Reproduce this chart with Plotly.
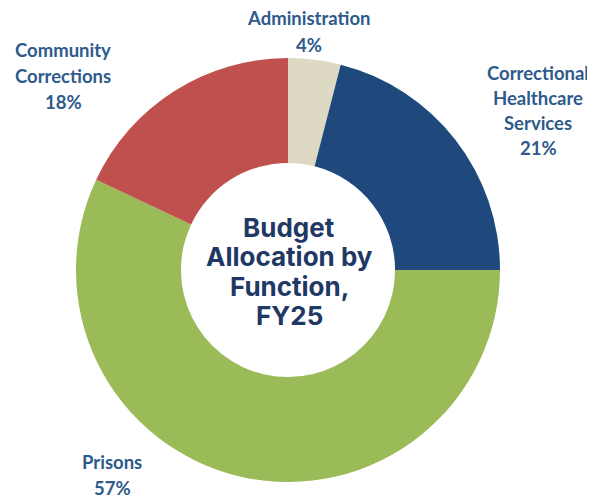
import plotly.graph_objects as go

categories = ["Administration", "Correctional Healthcare Services", "Prisons", "Community Corrections"]
shares = [4, 21, 57, 18]
label_lines = [["Administration", "4%"],
               ["Correctional", "Healthcare", "Services", "21%"],
               ["Prisons", "57%"],
               ["Community", "Corrections", "18%"]]
title_lines = ["Budget", "Allocation by", "Function,", "FY25"]
colors = ["#DDD9C3", "#1F497D", "#9BBB59", "#C0504D"]

# browser page has an 8px body margin; figure sits at (8, 8)
OFF = 8
W, H = 595 - OFF, 498 - OFF
cx, cy, r = 288, 270, 212  # page pixels


def px(x):
    return (x - OFF) / W


def py(y):
    return 1 - (y - OFF) / H


fig = go.Figure(go.Pie(
    labels=categories, values=shares, sort=False, direction="clockwise", rotation=0,
    hole=0.505, textinfo="none", hoverinfo="label+percent",
    marker=dict(colors=colors, line=dict(width=0)),
    domain=dict(x=[px(cx - r), px(cx + r)], y=[py(cy + r), py(cy - r)]),
    showlegend=False,
))

# first-line centre and line spacing (page pixels) for each label
label_pos = [(309, 18, 27), (538, 73, 25), (112, 462, 26), (63, 50, 26)]
ann = []
for lines, (x, y0, dy) in zip(label_lines, label_pos):
    for i, t in enumerate(lines):
        ann.append(dict(text=t, x=px(x), y=py(y0 + i * dy), xref="paper", yref="paper",
                        showarrow=False, xanchor="center", yanchor="middle",
                        font=dict(family="Lato", size=18.5, color="#2E5A8C", weight="bold")))
for i, t in enumerate(title_lines):
    ann.append(dict(text=t, x=px(289), y=py(227 + i * 29.5), xref="paper", yref="paper",
                    showarrow=False, xanchor="center", yanchor="middle",
                    font=dict(family="Inter", size=26, color="#1F3864", weight="bold")))

fig.update_layout(width=W, height=H, margin=dict(l=0, r=0, t=0, b=0),
                  paper_bgcolor="white", plot_bgcolor="white", annotations=ann)
fig.write_html("out.html")
